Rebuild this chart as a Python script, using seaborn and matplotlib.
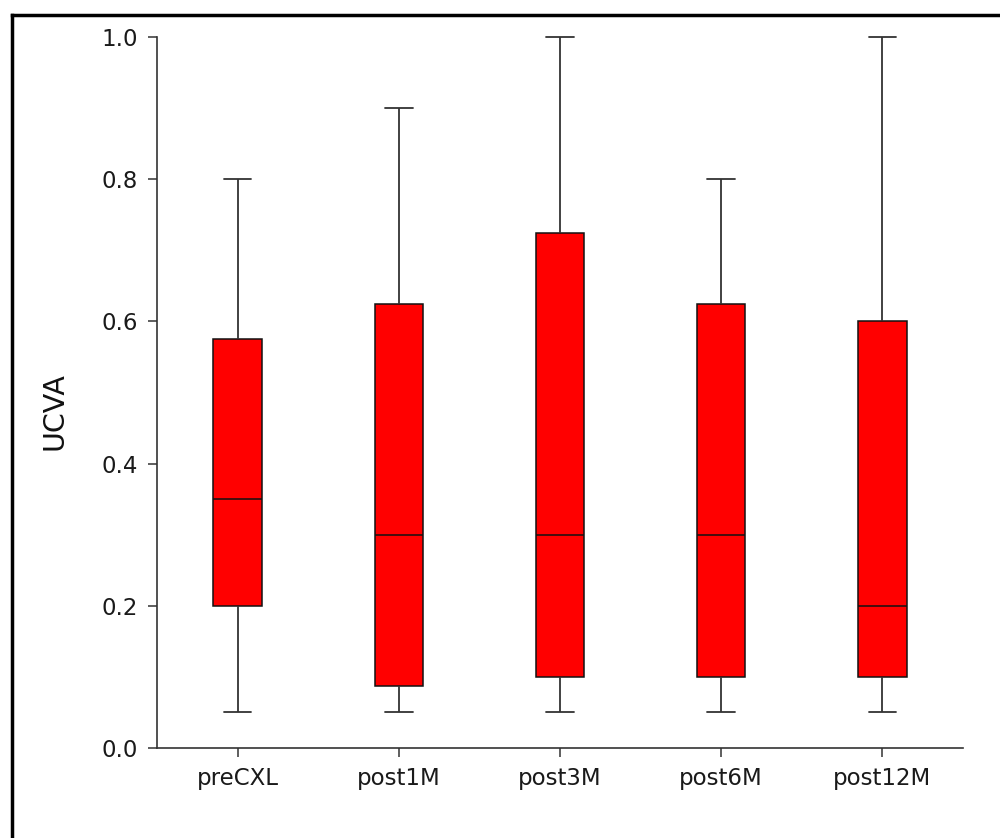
import numpy as np
import pandas as pd
import matplotlib
matplotlib.use("Agg")
import matplotlib.pyplot as plt
from matplotlib.lines import Line2D
import seaborn as sns

# ---- data ----
categories = ["preCXL", "post1M", "post3M", "post6M", "post12M"]
whisker_low = [0.05, 0.05, 0.05, 0.05, 0.05]
q1 = [0.20, 0.0875, 0.10, 0.10, 0.10]
median = [0.35, 0.30, 0.30, 0.30, 0.20]
q3 = [0.575, 0.625, 0.725, 0.625, 0.60]
whisker_high = [0.80, 0.90, 1.00, 0.80, 1.00]
y_ticks = [0.0, 0.2, 0.4, 0.6, 0.8, 1.0]
y_label = "UCVA"

# five-number summaries -> long table (quartiles reproduced exactly)
rows = []
for c, a, b, m, d, e in zip(categories, whisker_low, q1, median, q3, whisker_high):
    for v in (a, b, m, d, e):
        rows.append({"group": c, "value": v})
df = pd.DataFrame(rows)

sns.set_theme(style="white")
plt.rcParams["font.family"] = ["DejaVu Sans"]

fig = plt.figure(figsize=(10, 8.38), dpi=100)
ax = fig.add_axes([0.157, 1 - 748 / 838, 0.806, (748 - 37) / 838])

line_c = "#333333"
sns.boxplot(
    data=df, x="group", y="value", order=categories, ax=ax,
    whis=(0, 100), width=0.3, color="#FF0000", saturation=1,
    boxprops=dict(facecolor="#FF0000", edgecolor="#111111", linewidth=1.1),
    medianprops=dict(color="#111111", linewidth=1.1),
    whiskerprops=dict(color=line_c, linewidth=1.3),
    capprops=dict(color=line_c, linewidth=1.3),
    showfliers=False, capwidths=0.17,
)
for ln in ax.lines:
    ln.set_clip_on(False)

ax.set_xlim(-0.5, 4.5)
ax.set_ylim(0, 1)
ax.set_yticks(y_ticks)
ax.set_yticklabels([f"{t:.1f}" for t in y_ticks])
ax.set_xlabel("")
ax.set_ylabel(y_label, fontsize=20.5, color="#111111")
ax.yaxis.set_label_coords(-0.110, 0.474)

for s in ["top", "right"]:
    ax.spines[s].set_visible(False)
for s in ["left", "bottom"]:
    ax.spines[s].set_color("#333333")
    ax.spines[s].set_linewidth(1.2)

ax.tick_params(axis="both", which="major", direction="out", length=6.5, width=1.1,
               color="#333333", labelsize=16.5, labelcolor="#1a1a1a",
               left=True, bottom=True)
ax.tick_params(axis="y", pad=7)
ax.tick_params(axis="x", pad=7)
ax.grid(False)

# outer frame (left and top edges visible in the reference crop)
fig.add_artist(Line2D([12 / 1000, 12 / 1000], [0, 1 - 15 / 838], transform=fig.transFigure,
                      color="black", linewidth=2.5, solid_capstyle="projecting"))
fig.add_artist(Line2D([12 / 1000, 1], [1 - 15 / 838, 1 - 15 / 838], transform=fig.transFigure,
                      color="black", linewidth=2.5, solid_capstyle="projecting"))

fig.savefig("out.png", dpi=100, facecolor="white")
